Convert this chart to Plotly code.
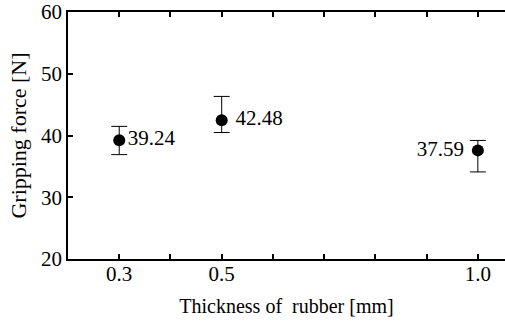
import plotly.graph_objects as go

thickness = [0.3, 0.5, 1.0]
force = [39.24, 42.48, 37.59]
err_plus = [2.24, 3.85, 1.61]
err_minus = [2.34, 2.0, 3.49]
labels = ["39.24", "42.48", "37.59"]
label_pos = ["middle right", "middle right", "middle left"]
label_tpl = ["%{text}", "\u00a0%{text}", "%{text}\u00a0"]

x_tickvals = [0.3, 0.4, 0.5, 0.6, 0.7, 0.8, 0.9, 1.0]
x_ticktext = ["0.3", "", "0.5", "", "", "", "", "1.0"]
y_tickvals = [20, 30, 40, 50, 60]

font = dict(family="Liberation Serif", size=21, color="black")
xtitle_font = dict(family="Liberation Serif", size=20, color="black")
ytitle_font = dict(family="Liberation Serif", size=22, color="black")

fig = go.Figure()
fig.add_trace(go.Scatter(
    x=thickness, y=force,
    mode="markers+text",
    text=labels,
    texttemplate=label_tpl,
    textposition=label_pos,
    textfont=font,
    marker=dict(color="black", size=12),
    error_y=dict(type="data", symmetric=False, array=err_plus, arrayminus=err_minus,
                 color="black", thickness=1, width=8),
    showlegend=False,
    cliponaxis=False,
))

fig.update_layout(
    width=505, height=321,
    margin=dict(l=68, r=0, t=12, b=62, autoexpand=False),
    paper_bgcolor="white", plot_bgcolor="white",
    font=font,
    xaxis=dict(
        range=[0.2, 1.053], tickvals=x_tickvals, ticktext=x_ticktext,
        ticks="inside", ticklen=5, tickwidth=1.5, tickcolor="black",
        showline=True, linecolor="black", linewidth=1.5, mirror="ticks",
        showgrid=False, zeroline=False, automargin=False,
        ticklabeloverflow="allow", ticklabelstandoff=-5,
        title=dict(text="Thickness of  rubber [mm]", font=xtitle_font, standoff=14),
    ),
    yaxis=dict(
        range=[20, 60], tickvals=y_tickvals,
        ticks="inside", ticklen=5, tickwidth=1.5, tickcolor="black",
        showline=True, linecolor="black", linewidth=1.5, mirror=False,
        showgrid=False, zeroline=False, automargin=False,
        ticklabeloverflow="allow",
        title=dict(text="Gripping force [N]", font=ytitle_font, standoff=8),
    ),
)

fig.write_html("out.html", config={"displayModeBar": False},
               post_script="document.body.style.margin='0';")
